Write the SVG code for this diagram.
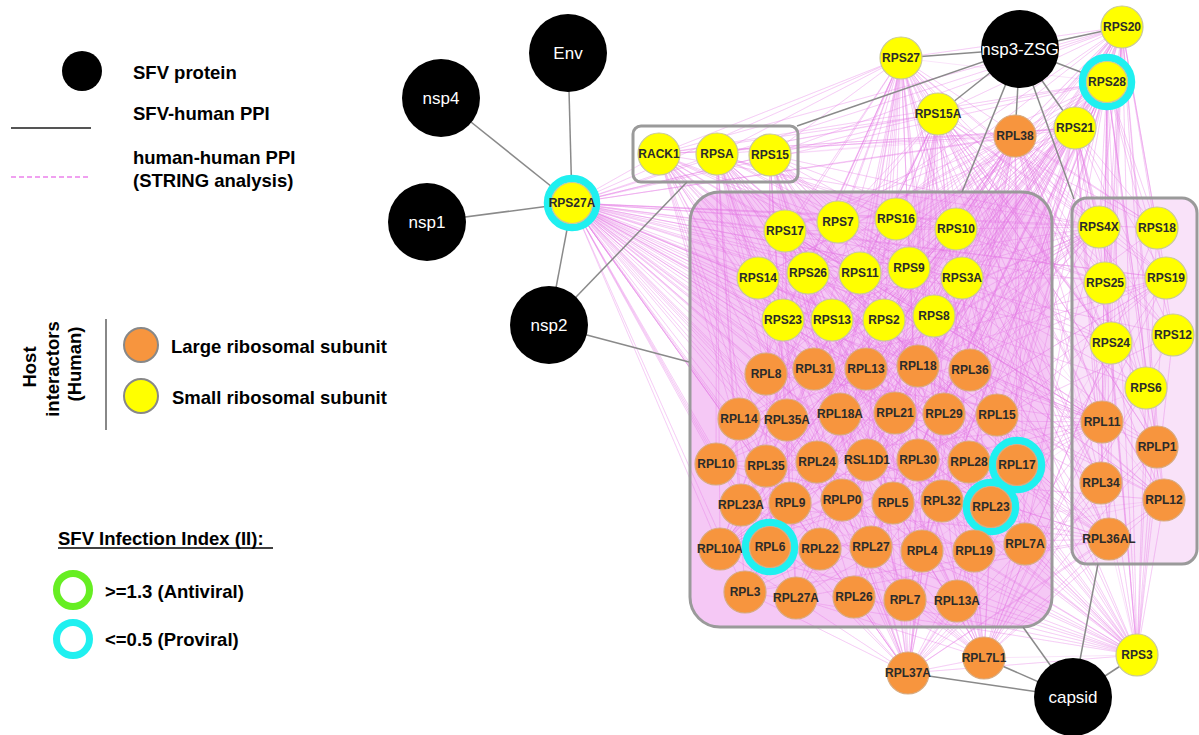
<svg xmlns="http://www.w3.org/2000/svg" width="1199" height="735" viewBox="0 0 1199 735">
<style>
.lg{font:bold 18.5px "Liberation Sans",Arial,sans-serif;fill:#000}
.bn{fill:#000}
.bt{font:17px "Liberation Sans",Arial,sans-serif;fill:#fff;text-anchor:middle}
.y{fill:#ffff00;stroke:#c8c89a;stroke-width:1.2}
.o{fill:#f7953e;stroke:#d8aa7e;stroke-width:1.2}
.ring{fill:none;stroke:#1ff0f0;stroke-width:7.5}
.nt{font:bold 12px "Liberation Sans",Arial,sans-serif;fill:#2b2b2b;text-anchor:middle}
.edge{stroke:#8a8a8a;stroke-width:1.5;fill:none}
.hh{stroke:#e67ae6;stroke-width:0.5;fill:none;opacity:0.4}
.box{fill:none;stroke:#9a9a9a;stroke-width:3}
</style>
<rect width="1199" height="735" fill="#fff"/>

<g id="legend">
<circle cx="82" cy="71" r="20" fill="#000"/>
<text class="lg" x="133" y="79">SFV protein</text>
<text class="lg" x="133" y="120">SFV-human PPI</text>
<line x1="11" y1="128" x2="91" y2="128" stroke="#555" stroke-width="2"/>
<text class="lg" x="133" y="164">human-human PPI</text>
<text class="lg" x="133" y="187">(STRING analysis)</text>
<line x1="11" y1="177" x2="91" y2="177" stroke="#f0a0f0" stroke-width="2" stroke-dasharray="5 3"/>
<text class="lg" text-anchor="middle" transform="translate(36 367) rotate(-90)">Host</text>
<text class="lg" text-anchor="middle" transform="translate(59 369) rotate(-90)">interactors</text>
<text class="lg" text-anchor="middle" transform="translate(81 364) rotate(-90)">(Human)</text>
<line x1="106" y1="319" x2="106" y2="430" stroke="#888" stroke-width="2"/>
<circle cx="141" cy="345" r="17" fill="#f7953e" stroke="#888" stroke-width="2"/>
<text class="lg" x="171" y="353">Large ribosomal subunit</text>
<circle cx="141" cy="396" r="17" fill="#ffff00" stroke="#888" stroke-width="2"/>
<text class="lg" x="172" y="404">Small ribosomal subunit</text>
<text class="lg" x="58" y="545">SFV Infection Index (II):</text>
<line x1="58" y1="548" x2="273" y2="548" stroke="#000" stroke-width="1.5"/>
<circle cx="73" cy="590" r="16.5" fill="none" stroke="#66ee22" stroke-width="7"/>
<text class="lg" x="105" y="598">&gt;=1.3 (Antiviral)</text>
<circle cx="73" cy="639" r="16.5" fill="none" stroke="#1ff0f0" stroke-width="7"/>
<text class="lg" x="105" y="646">&lt;=0.5 (Proviral)</text>
</g>

<g id="box-fills">
<rect x="690" y="192" width="362" height="435" rx="30" fill="#f5c8f5"/>
<rect x="1072" y="198" width="125" height="366" rx="15" fill="#f9e2f9"/>
</g>

<g id="connectors">
<g id="human-human-ppi">
<path class="hh" d="M572 203 659 154 572 203 717 154 572 203 770 155 572 203 901 58 572 203 938 114 572 203 1015 136 572 203 1075 128 572 203 1107 82 572 203 1122 27 572 203 785 231 572 203 838 222 572 203 896 219 572 203 956 229 572 203 758 278 572 203 808 273 572 203 860 273 572 203 909 268 572 203 962 278 572 203 783 320 572 203 832 320 572 203 884 320 572 203 934 316 572 203 766 374 572 203 814 369 572 203 866 369 572 203 918 366 572 203 970 370 572 203 739 419 572 203 787 420 572 203 840 414 572 203 895 413 572 203 944 414 572 203 997 415 572 203 716 464 572 203 766 466 572 203 817 462 572 203 867 460 572 203 918 460 572 203 969 462 572 203 1017 465 572 203 741 505 572 203 790 503 572 203 842 500 572 203 893 503 572 203 942 501 572 203 991 507 572 203 720 549 572 203 770 547 572 203 820 549 572 203 871 547 572 203 922 551 572 203 974 551 572 203 1025 544 572 203 745 592 572 203 796 598 572 203 854 597 572 203 905 600 572 203 957 601 572 203 1099 227 572 203 1157 228 572 203 1105 283 572 203 1166 278 572 203 1111 343 572 203 1173 335 572 203 1146 388 572 203 1102 422 572 203 1157 447 572 203 1101 483 572 203 1164 500 572 203 1109 539 572 203 908 673 572 203 1137 655"/>
<path class="hh" d="M901 58 785 231 901 58 896 219 901 58 956 229 901 58 758 278 901 58 860 273 901 58 962 278 901 58 783 320 901 58 884 320 901 58 766 374 901 58 866 369 901 58 970 370 901 58 739 419 901 58 840 414 901 58 944 414 901 58 716 464 901 58 817 462 901 58 918 460 901 58 1017 465 901 58 741 505 901 58 842 500 901 58 942 501 901 58 720 549 901 58 820 549 901 58 922 551 901 58 1025 544 901 58 745 592 901 58 854 597 901 58 957 601 901 58 1099 227 901 58 1157 228 901 58 1105 283 901 58 1166 278 901 58 1111 343 901 58 1173 335 901 58 1146 388 901 58 1102 422 901 58 1157 447 901 58 1101 483 901 58 1164 500 901 58 1109 539 901 58 659 154 901 58 717 154 901 58 770 155 901 58 1122 27 901 58 1107 82"/>
<path class="hh" d="M938 114 838 222 938 114 808 273 938 114 909 268 938 114 832 320 938 114 934 316 938 114 814 369 938 114 918 366 938 114 787 420 938 114 895 413 938 114 997 415 938 114 766 466 938 114 867 460 938 114 969 462 938 114 790 503 938 114 893 503 938 114 991 507 938 114 770 547 938 114 871 547 938 114 974 551 938 114 796 598 938 114 905 600 938 114 1099 227 938 114 1157 228 938 114 1105 283 938 114 1166 278 938 114 1111 343 938 114 1173 335 938 114 1146 388 938 114 1102 422 938 114 1157 447 938 114 1101 483 938 114 1164 500 938 114 1109 539 938 114 659 154 938 114 717 154"/>
<path class="hh" d="M1015 136 785 231 1015 136 896 219 1015 136 956 229 1015 136 758 278 1015 136 860 273 1015 136 962 278 1015 136 783 320 1015 136 884 320 1015 136 766 374 1015 136 866 369 1015 136 970 370 1015 136 739 419 1015 136 840 414 1015 136 944 414 1015 136 716 464 1015 136 817 462 1015 136 918 460 1015 136 1017 465 1015 136 741 505 1015 136 842 500 1015 136 942 501 1015 136 720 549 1015 136 820 549 1015 136 922 551 1015 136 1025 544 1015 136 745 592 1015 136 854 597 1015 136 957 601 1015 136 1099 227 1015 136 1157 228 1015 136 1105 283 1015 136 1166 278 1015 136 1111 343 1015 136 1173 335 1015 136 1146 388 1015 136 1102 422 1015 136 1157 447 1015 136 1101 483 1015 136 1164 500 1015 136 1109 539"/>
<path class="hh" d="M1075 128 838 222 1075 128 808 273 1075 128 909 268 1075 128 832 320 1075 128 934 316 1075 128 814 369 1075 128 918 366 1075 128 787 420 1075 128 895 413 1075 128 997 415 1075 128 766 466 1075 128 867 460 1075 128 969 462 1075 128 790 503 1075 128 893 503 1075 128 991 507 1075 128 770 547 1075 128 871 547 1075 128 974 551 1075 128 796 598 1075 128 905 600 1075 128 1099 227 1075 128 1157 228 1075 128 1105 283 1075 128 1166 278 1075 128 1111 343 1075 128 1173 335 1075 128 1146 388 1075 128 1102 422 1075 128 1157 447 1075 128 1101 483 1075 128 1164 500 1075 128 1109 539 1075 128 659 154 1075 128 770 155"/>
<path class="hh" d="M1107 82 785 231 1107 82 896 219 1107 82 956 229 1107 82 758 278 1107 82 860 273 1107 82 962 278 1107 82 783 320 1107 82 884 320 1107 82 766 374 1107 82 866 369 1107 82 970 370 1107 82 739 419 1107 82 840 414 1107 82 944 414 1107 82 716 464 1107 82 817 462 1107 82 918 460 1107 82 1017 465 1107 82 741 505 1107 82 842 500 1107 82 942 501 1107 82 720 549 1107 82 820 549 1107 82 922 551 1107 82 1025 544 1107 82 745 592 1107 82 854 597 1107 82 957 601 1107 82 1099 227 1107 82 1157 228 1107 82 1105 283 1107 82 1166 278 1107 82 1111 343 1107 82 1173 335 1107 82 1146 388 1107 82 1102 422 1107 82 1157 447 1107 82 1101 483 1107 82 1164 500 1107 82 1109 539 1107 82 1137 655 1107 82 659 154 1107 82 717 154"/>
<path class="hh" d="M1122 27 838 222 1122 27 808 273 1122 27 909 268 1122 27 832 320 1122 27 934 316 1122 27 814 369 1122 27 918 366 1122 27 787 420 1122 27 895 413 1122 27 997 415 1122 27 766 466 1122 27 867 460 1122 27 969 462 1122 27 790 503 1122 27 893 503 1122 27 991 507 1122 27 770 547 1122 27 871 547 1122 27 974 551 1122 27 796 598 1122 27 905 600 1122 27 1099 227 1122 27 1157 228 1122 27 1105 283 1122 27 1166 278 1122 27 1111 343 1122 27 1173 335 1122 27 1146 388 1122 27 1102 422 1122 27 1157 447 1122 27 1101 483 1122 27 1164 500 1122 27 1109 539 1122 27 1137 655 1122 27 659 154 1122 27 770 155 1122 27 938 114 1122 27 1015 136"/>
<path class="hh" d="M659 154 838 222 659 154 808 273 659 154 909 268 659 154 832 320 659 154 934 316 659 154 814 369 659 154 918 366 659 154 787 420 659 154 895 413 659 154 997 415 659 154 766 466 659 154 867 460 659 154 969 462 659 154 790 503 659 154 893 503 659 154 991 507 659 154 770 547 659 154 871 547 659 154 974 551 659 154 796 598 659 154 905 600 659 154 1099 227 659 154 1111 343 659 154 1102 422 659 154 1015 136 659 154 1075 128"/>
<path class="hh" d="M717 154 785 231 717 154 896 219 717 154 956 229 717 154 758 278 717 154 860 273 717 154 962 278 717 154 783 320 717 154 884 320 717 154 766 374 717 154 866 369 717 154 970 370 717 154 739 419 717 154 840 414 717 154 944 414 717 154 716 464 717 154 817 462 717 154 918 460 717 154 1017 465 717 154 741 505 717 154 842 500 717 154 942 501 717 154 720 549 717 154 820 549 717 154 922 551 717 154 1025 544 717 154 745 592 717 154 854 597 717 154 957 601 717 154 1105 283 717 154 1146 388 717 154 1101 483 717 154 1075 128 717 154 1107 82"/>
<path class="hh" d="M770 155 838 222 770 155 808 273 770 155 909 268 770 155 832 320 770 155 934 316 770 155 814 369 770 155 918 366 770 155 787 420 770 155 895 413 770 155 997 415 770 155 766 466 770 155 867 460 770 155 969 462 770 155 790 503 770 155 893 503 770 155 991 507 770 155 770 547 770 155 871 547 770 155 974 551 770 155 796 598 770 155 905 600 770 155 1099 227 770 155 1105 283 770 155 1111 343 770 155 1157 447 770 155 1164 500 770 155 1015 136"/>
<path class="hh" d="M908 673 785 231 908 673 896 219 908 673 956 229 908 673 758 278 908 673 860 273 908 673 962 278 908 673 783 320 908 673 884 320 908 673 766 374 908 673 866 369 908 673 970 370 908 673 739 419 908 673 840 414 908 673 944 414 908 673 716 464 908 673 817 462 908 673 918 460 908 673 1017 465 908 673 741 505 908 673 842 500 908 673 942 501 908 673 720 549 908 673 820 549 908 673 922 551 908 673 1025 544 908 673 745 592 908 673 854 597 908 673 957 601 908 673 1102 422 908 673 1157 447 908 673 1101 483 908 673 1164 500 908 673 1109 539 908 673 1137 655 908 673 984 658 908 673 1166 278 908 673 1111 343"/>
<path class="hh" d="M984 658 838 222 984 658 808 273 984 658 909 268 984 658 832 320 984 658 934 316 984 658 814 369 984 658 918 366 984 658 787 420 984 658 895 413 984 658 997 415 984 658 766 466 984 658 867 460 984 658 969 462 984 658 790 503 984 658 893 503 984 658 991 507 984 658 770 547 984 658 871 547 984 658 974 551 984 658 796 598 984 658 905 600 984 658 1099 227 984 658 1157 228 984 658 1105 283 984 658 1166 278 984 658 1111 343 984 658 1173 335 984 658 1146 388 984 658 1102 422 984 658 1157 447 984 658 1101 483 984 658 1164 500 984 658 1109 539 984 658 1137 655"/>
<path class="hh" d="M1137 655 785 231 1137 655 896 219 1137 655 956 229 1137 655 758 278 1137 655 860 273 1137 655 962 278 1137 655 783 320 1137 655 884 320 1137 655 766 374 1137 655 866 369 1137 655 970 370 1137 655 739 419 1137 655 840 414 1137 655 944 414 1137 655 716 464 1137 655 817 462 1137 655 918 460 1137 655 1017 465 1137 655 741 505 1137 655 842 500 1137 655 942 501 1137 655 720 549 1137 655 820 549 1137 655 922 551 1137 655 1025 544 1137 655 745 592 1137 655 854 597 1137 655 957 601 1137 655 1099 227 1137 655 1157 228 1137 655 1105 283 1137 655 1166 278 1137 655 1111 343 1137 655 1173 335 1137 655 1146 388 1137 655 1102 422 1137 655 1157 447 1137 655 1101 483 1137 655 1164 500 1137 655 1109 539"/>
<path class="hh" d="M785 231 790 503 785 231 893 503 785 231 991 507 785 231 770 547 785 231 871 547 785 231 974 551 785 231 796 598 785 231 905 600 785 231 1025 544 785 231 957 601 785 231 1017 465 785 231 1102 422 785 231 1157 447 785 231 1109 539 785 231 1164 500"/>
<path class="hh" d="M1099 227 785 231 1099 227 758 278 1099 227 783 320 1099 227 766 374 1099 227 739 419 1099 227 716 464 1099 227 741 505 1099 227 720 549 1099 227 745 592 1099 227 854 597 1099 227 842 500 1099 227 817 462 1099 227 840 414 1099 227 866 369 1099 227 884 320 1099 227 860 273"/>
<path class="hh" d="M1109 539 838 222 1109 539 808 273 1109 539 758 278 1109 539 785 231 1109 539 783 320 1109 539 814 369 1109 539 739 419 1109 539 716 464 1109 539 741 505 1109 539 720 549 1109 539 745 592 1109 539 796 598 1109 539 867 460 1109 539 896 219 1109 539 956 229"/>
<path class="hh" d="M720 549 838 222 720 549 896 219 720 549 956 229 720 549 962 278 720 549 934 316 720 549 970 370 720 549 997 415 720 549 1017 465 720 549 1166 278 720 549 1173 335 720 549 1157 228 720 549 1146 388"/>
<path class="hh" d="M1102 422 785 231 1102 422 838 222 1102 422 758 278 1102 422 808 273 1102 422 783 320 1102 422 766 374 1102 422 739 419 1102 422 716 464 1102 422 741 505 1102 422 720 549 1102 422 745 592 1102 422 796 598 1102 422 854 597"/>
<path class="hh" d="M956 229 745 592 956 229 720 549 956 229 741 505 956 229 716 464 956 229 739 419 956 229 796 598 956 229 770 547 956 229 854 597 956 229 905 600 956 229 1109 539 956 229 1101 483 956 229 1164 500"/>
<path class="hh" d="M1166 278 745 592 1166 278 796 598 1166 278 716 464 1166 278 739 419 1166 278 766 374 1166 278 758 278 1166 278 785 231 1166 278 720 549 1164 500 785 231 1164 500 758 278 1164 500 838 222 1164 500 716 464 1164 500 745 592"/>
</g>
<g id="box-borders">
<rect class="box" x="633" y="126" width="165" height="56" rx="8"/>
<rect class="box" x="690" y="192" width="362" height="435" rx="30"/>
<rect class="box" x="1072" y="198" width="125" height="366" rx="15"/>
</g>
<g id="sfv-human-ppi">
<line class="edge" x1="568" y1="53" x2="572" y2="203"/>
<line class="edge" x1="441" y1="98" x2="572" y2="203"/>
<line class="edge" x1="427" y1="222" x2="572" y2="203"/>
<line class="edge" x1="549" y1="325" x2="572" y2="203"/>
<line class="edge" x1="549" y1="325" x2="687" y2="182"/>
<line class="edge" x1="549" y1="325" x2="689" y2="362"/>
<line class="edge" x1="1020" y1="49" x2="901" y2="58"/>
<line class="edge" x1="1020" y1="49" x2="797" y2="126"/>
<line class="edge" x1="1020" y1="49" x2="938" y2="114"/>
<line class="edge" x1="1020" y1="49" x2="1015" y2="136"/>
<line class="edge" x1="1020" y1="49" x2="1075" y2="128"/>
<line class="edge" x1="1020" y1="49" x2="1107" y2="82"/>
<line class="edge" x1="1020" y1="49" x2="1122" y2="27"/>
<line class="edge" x1="1020" y1="49" x2="962" y2="192"/>
<line class="edge" x1="1020" y1="49" x2="1074" y2="199"/>
<line class="edge" x1="1073" y1="697" x2="1023" y2="627"/>
<line class="edge" x1="1073" y1="697" x2="1098" y2="564"/>
<line class="edge" x1="1073" y1="697" x2="1137" y2="655"/>
<line class="edge" x1="1073" y1="697" x2="984" y2="658"/>
<line class="edge" x1="1073" y1="697" x2="908" y2="673"/>
</g>
</g>

<g id="sfv-nodes">
<g id="n-Env"><circle class="bn" cx="568" cy="53" r="39"/><text class="bt" x="568" y="59">Env</text></g>
<g id="n-nsp4"><circle class="bn" cx="441" cy="98" r="39"/><text class="bt" x="441" y="104">nsp4</text></g>
<g id="n-nsp1"><circle class="bn" cx="427" cy="222" r="39"/><text class="bt" x="427" y="228">nsp1</text></g>
<g id="n-nsp2"><circle class="bn" cx="549" cy="325" r="39"/><text class="bt" x="549" y="331">nsp2</text></g>
<g id="n-nsp3-ZSG"><circle class="bn" cx="1020" cy="49" r="39"/><text class="bt" x="1020" y="55">nsp3-ZSG</text></g>
<g id="n-capsid"><circle class="bn" cx="1073" cy="697" r="39"/><text class="bt" x="1073" y="703">capsid</text></g>
</g>

<g id="host-nodes">
<g id="n-RPS27A"><circle class="ring" cx="572" cy="203" r="24.5"/><circle class="y" cx="572" cy="203" r="20.5"/><text class="nt" x="572" y="207">RPS27A</text></g>
<g id="n-RACK1"><circle class="y" cx="659" cy="154" r="21"/><text class="nt" x="659" y="158">RACK1</text></g>
<g id="n-RPSA"><circle class="y" cx="717" cy="154" r="21"/><text class="nt" x="717" y="158">RPSA</text></g>
<g id="n-RPS15"><circle class="y" cx="770" cy="155" r="21"/><text class="nt" x="770" y="159">RPS15</text></g>
<g id="n-RPS27"><circle class="y" cx="901" cy="58" r="21"/><text class="nt" x="901" y="62">RPS27</text></g>
<g id="n-RPS15A"><circle class="y" cx="938" cy="114" r="21"/><text class="nt" x="938" y="118">RPS15A</text></g>
<g id="n-RPL38"><circle class="o" cx="1015" cy="136" r="21"/><text class="nt" x="1015" y="140">RPL38</text></g>
<g id="n-RPS21"><circle class="y" cx="1075" cy="128" r="21"/><text class="nt" x="1075" y="132">RPS21</text></g>
<g id="n-RPS28"><circle class="ring" cx="1107" cy="82" r="24.5"/><circle class="y" cx="1107" cy="82" r="20.5"/><text class="nt" x="1107" y="86">RPS28</text></g>
<g id="n-RPS20"><circle class="y" cx="1122" cy="27" r="21"/><text class="nt" x="1122" y="31">RPS20</text></g>

<g id="n-RPS17"><circle class="y" cx="785" cy="231" r="21"/><text class="nt" x="785" y="235">RPS17</text></g>
<g id="n-RPS7"><circle class="y" cx="838" cy="222" r="21"/><text class="nt" x="838" y="226">RPS7</text></g>
<g id="n-RPS16"><circle class="y" cx="896" cy="219" r="21"/><text class="nt" x="896" y="223">RPS16</text></g>
<g id="n-RPS10"><circle class="y" cx="956" cy="229" r="21"/><text class="nt" x="956" y="233">RPS10</text></g>
<g id="n-RPS14"><circle class="y" cx="758" cy="278" r="21"/><text class="nt" x="758" y="282">RPS14</text></g>
<g id="n-RPS26"><circle class="y" cx="808" cy="273" r="21"/><text class="nt" x="808" y="277">RPS26</text></g>
<g id="n-RPS11"><circle class="y" cx="860" cy="273" r="21"/><text class="nt" x="860" y="277">RPS11</text></g>
<g id="n-RPS9"><circle class="y" cx="909" cy="268" r="21"/><text class="nt" x="909" y="272">RPS9</text></g>
<g id="n-RPS3A"><circle class="y" cx="962" cy="278" r="21"/><text class="nt" x="962" y="282">RPS3A</text></g>
<g id="n-RPS23"><circle class="y" cx="783" cy="320" r="21"/><text class="nt" x="783" y="324">RPS23</text></g>
<g id="n-RPS13"><circle class="y" cx="832" cy="320" r="21"/><text class="nt" x="832" y="324">RPS13</text></g>
<g id="n-RPS2"><circle class="y" cx="884" cy="320" r="21"/><text class="nt" x="884" y="324">RPS2</text></g>
<g id="n-RPS8"><circle class="y" cx="934" cy="316" r="21"/><text class="nt" x="934" y="320">RPS8</text></g>

<g id="n-RPL8"><circle class="o" cx="766" cy="374" r="21"/><text class="nt" x="766" y="378">RPL8</text></g>
<g id="n-RPL31"><circle class="o" cx="814" cy="369" r="21"/><text class="nt" x="814" y="373">RPL31</text></g>
<g id="n-RPL13"><circle class="o" cx="866" cy="369" r="21"/><text class="nt" x="866" y="373">RPL13</text></g>
<g id="n-RPL18"><circle class="o" cx="918" cy="366" r="21"/><text class="nt" x="918" y="370">RPL18</text></g>
<g id="n-RPL36"><circle class="o" cx="970" cy="370" r="21"/><text class="nt" x="970" y="374">RPL36</text></g>
<g id="n-RPL14"><circle class="o" cx="739" cy="419" r="21"/><text class="nt" x="739" y="423">RPL14</text></g>
<g id="n-RPL35A"><circle class="o" cx="787" cy="420" r="21"/><text class="nt" x="787" y="424">RPL35A</text></g>
<g id="n-RPL18A"><circle class="o" cx="840" cy="414" r="21"/><text class="nt" x="840" y="418">RPL18A</text></g>
<g id="n-RPL21"><circle class="o" cx="895" cy="413" r="21"/><text class="nt" x="895" y="417">RPL21</text></g>
<g id="n-RPL29"><circle class="o" cx="944" cy="414" r="21"/><text class="nt" x="944" y="418">RPL29</text></g>
<g id="n-RPL15"><circle class="o" cx="997" cy="415" r="21"/><text class="nt" x="997" y="419">RPL15</text></g>
<g id="n-RPL10"><circle class="o" cx="716" cy="464" r="21"/><text class="nt" x="716" y="468">RPL10</text></g>
<g id="n-RPL35"><circle class="o" cx="766" cy="466" r="21"/><text class="nt" x="766" y="470">RPL35</text></g>
<g id="n-RPL24"><circle class="o" cx="817" cy="462" r="21"/><text class="nt" x="817" y="466">RPL24</text></g>
<g id="n-RSL1D1"><circle class="o" cx="867" cy="460" r="21"/><text class="nt" x="867" y="464">RSL1D1</text></g>
<g id="n-RPL30"><circle class="o" cx="918" cy="460" r="21"/><text class="nt" x="918" y="464">RPL30</text></g>
<g id="n-RPL28"><circle class="o" cx="969" cy="462" r="21"/><text class="nt" x="969" y="466">RPL28</text></g>
<g id="n-RPL17"><circle class="ring" cx="1017" cy="465" r="24.5"/><circle class="o" cx="1017" cy="465" r="20.5"/><text class="nt" x="1017" y="469">RPL17</text></g>
<g id="n-RPL23A"><circle class="o" cx="741" cy="505" r="21"/><text class="nt" x="741" y="509">RPL23A</text></g>
<g id="n-RPL9"><circle class="o" cx="790" cy="503" r="21"/><text class="nt" x="790" y="507">RPL9</text></g>
<g id="n-RPLP0"><circle class="o" cx="842" cy="500" r="21"/><text class="nt" x="842" y="504">RPLP0</text></g>
<g id="n-RPL5"><circle class="o" cx="893" cy="503" r="21"/><text class="nt" x="893" y="507">RPL5</text></g>
<g id="n-RPL32"><circle class="o" cx="942" cy="501" r="21"/><text class="nt" x="942" y="505">RPL32</text></g>
<g id="n-RPL23"><circle class="ring" cx="991" cy="507" r="24.5"/><circle class="o" cx="991" cy="507" r="20.5"/><text class="nt" x="991" y="511">RPL23</text></g>
<g id="n-RPL10A"><circle class="o" cx="720" cy="549" r="21"/><text class="nt" x="720" y="553">RPL10A</text></g>
<g id="n-RPL6"><circle class="ring" cx="770" cy="547" r="24.5"/><circle class="o" cx="770" cy="547" r="20.5"/><text class="nt" x="770" y="551">RPL6</text></g>
<g id="n-RPL22"><circle class="o" cx="820" cy="549" r="21"/><text class="nt" x="820" y="553">RPL22</text></g>
<g id="n-RPL27"><circle class="o" cx="871" cy="547" r="21"/><text class="nt" x="871" y="551">RPL27</text></g>
<g id="n-RPL4"><circle class="o" cx="922" cy="551" r="21"/><text class="nt" x="922" y="555">RPL4</text></g>
<g id="n-RPL19"><circle class="o" cx="974" cy="551" r="21"/><text class="nt" x="974" y="555">RPL19</text></g>
<g id="n-RPL7A"><circle class="o" cx="1025" cy="544" r="21"/><text class="nt" x="1025" y="548">RPL7A</text></g>
<g id="n-RPL3"><circle class="o" cx="745" cy="592" r="21"/><text class="nt" x="745" y="596">RPL3</text></g>
<g id="n-RPL27A"><circle class="o" cx="796" cy="598" r="21"/><text class="nt" x="796" y="602">RPL27A</text></g>
<g id="n-RPL26"><circle class="o" cx="854" cy="597" r="21"/><text class="nt" x="854" y="601">RPL26</text></g>
<g id="n-RPL7"><circle class="o" cx="905" cy="600" r="21"/><text class="nt" x="905" y="604">RPL7</text></g>
<g id="n-RPL13A"><circle class="o" cx="957" cy="601" r="21"/><text class="nt" x="957" y="605">RPL13A</text></g>

<g id="n-RPS4X"><circle class="y" cx="1099" cy="227" r="21"/><text class="nt" x="1099" y="231">RPS4X</text></g>
<g id="n-RPS18"><circle class="y" cx="1157" cy="228" r="21"/><text class="nt" x="1157" y="232">RPS18</text></g>
<g id="n-RPS25"><circle class="y" cx="1105" cy="283" r="21"/><text class="nt" x="1105" y="287">RPS25</text></g>
<g id="n-RPS19"><circle class="y" cx="1166" cy="278" r="21"/><text class="nt" x="1166" y="282">RPS19</text></g>
<g id="n-RPS24"><circle class="y" cx="1111" cy="343" r="21"/><text class="nt" x="1111" y="347">RPS24</text></g>
<g id="n-RPS12"><circle class="y" cx="1173" cy="335" r="21"/><text class="nt" x="1173" y="339">RPS12</text></g>
<g id="n-RPS6"><circle class="y" cx="1146" cy="388" r="21"/><text class="nt" x="1146" y="392">RPS6</text></g>
<g id="n-RPL11"><circle class="o" cx="1102" cy="422" r="21"/><text class="nt" x="1102" y="426">RPL11</text></g>
<g id="n-RPLP1"><circle class="o" cx="1157" cy="447" r="21"/><text class="nt" x="1157" y="451">RPLP1</text></g>
<g id="n-RPL34"><circle class="o" cx="1101" cy="483" r="21"/><text class="nt" x="1101" y="487">RPL34</text></g>
<g id="n-RPL12"><circle class="o" cx="1164" cy="500" r="21"/><text class="nt" x="1164" y="504">RPL12</text></g>
<g id="n-RPL36AL"><circle class="o" cx="1109" cy="539" r="21"/><text class="nt" x="1109" y="543">RPL36AL</text></g>

<g id="n-RPL37A"><circle class="o" cx="908" cy="673" r="21"/><text class="nt" x="908" y="677">RPL37A</text></g>
<g id="n-RPL7L1"><circle class="o" cx="984" cy="658" r="21"/><text class="nt" x="984" y="662">RPL7L1</text></g>
<g id="n-RPS3"><circle class="y" cx="1137" cy="655" r="21"/><text class="nt" x="1137" y="659">RPS3</text></g>
</g>
</svg>
